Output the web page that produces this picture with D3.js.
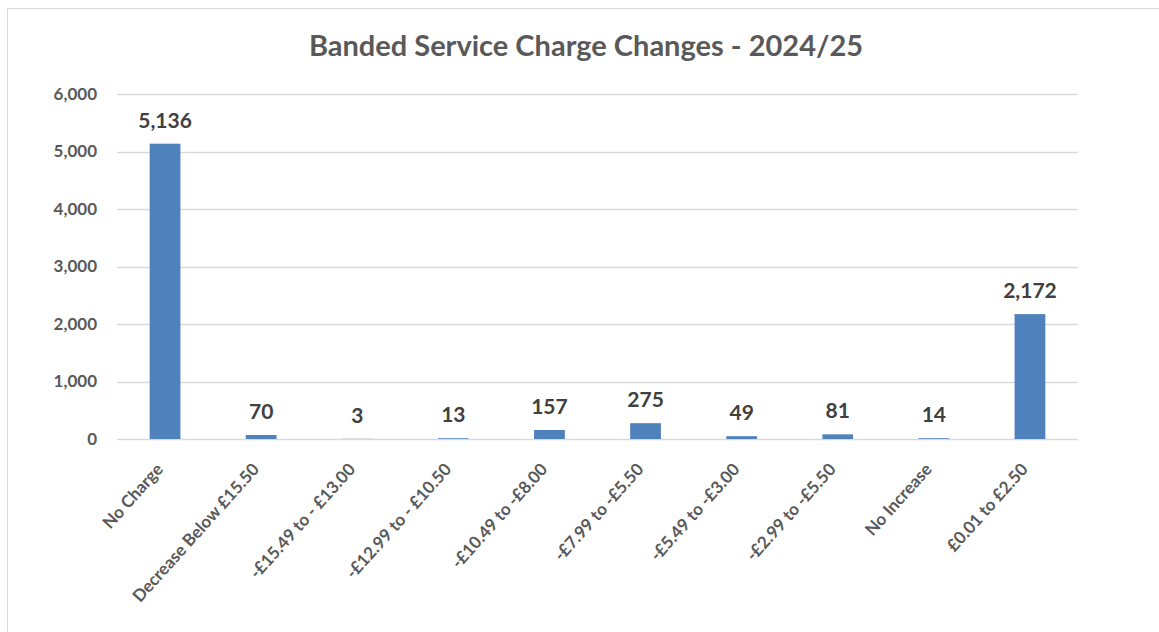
<!DOCTYPE html>
<html>
<head>
<meta charset="utf-8">
<script src="https://cdn.jsdelivr.net/npm/d3@7"></script>
<style>
  body { margin: 0; background: #fff; }
  text { font-family: Lato, "Open Sans", sans-serif; font-weight: bold; }
</style>
</head>
<body>
<div id="chart"></div>
<script>
var categories = ["No Charge", "Decrease Below £15.50", "-£15.49 to - £13.00",
    "-£12.99 to - £10.50", "-£10.49 to -£8.00", "-£7.99 to -£5.50",
    "-£5.49 to -£3.00", "-£2.99 to -£5.50", "No Increase", "£0.01 to £2.50"];
var counts = [5136, 70, 3, 13, 157, 275, 49, 81, 14, 2172];
var yTicks = [0, 1000, 2000, 3000, 4000, 5000, 6000];
var title = "Banded Service Charge Changes - 2024/25";

var width = 1159,
    height = 632;
var plotLeft = 117, plotRight = 1078, plotTop = 94, plotBottom = 439;

var svg = d3.select("#chart").append("svg")
    .attr("width", width)
    .attr("height", height);

// chart frame
svg.append("rect")
    .attr("x", 7.5)
    .attr("y", 8.5)
    .attr("width", width)
    .attr("height", height)
    .attr("fill", "#fff")
    .attr("stroke", "#d9d9d9");

svg.append("text")
    .attr("x", 586)
    .attr("y", 56)
    .attr("text-anchor", "middle")
    .attr("fill", "#595959")
    .style("font-size", "29px")
    .text(title);

var x = d3.scaleBand()
    .domain(categories)
    .range([plotLeft, plotRight])
    .paddingInner(0.68)
    .paddingOuter(0.34);

var y = d3.scaleLinear()
    .domain([0, 6000])
    .range([plotBottom, plotTop]);

// gridlines
svg.selectAll(".grid").data(yTicks)
    .enter().append("line")
    .attr("class", "grid")
    .attr("x1", plotLeft)
    .attr("x2", plotRight)
    .attr("y1", function(d) { return Math.round(y(d)) + 0.5; })
    .attr("y2", function(d) { return Math.round(y(d)) + 0.5; })
    .attr("stroke", "#d9d9d9")
    .attr("stroke-width", 1.3);

var yAxis = svg.append("g")
    .attr("transform", "translate(" + plotLeft + ",0)")
    .call(d3.axisLeft(y).tickValues(yTicks).tickSize(0).tickPadding(20)
        .tickFormat(d3.format(",")));
yAxis.select(".domain").remove();
yAxis.selectAll("text")
    .attr("fill", "#595959")
    .style("font-size", "17px")
    .style("font-family", "Lato, sans-serif");

svg.selectAll(".bar").data(counts)
    .enter().append("rect")
    .attr("class", "bar")
    .attr("x", function(d, i) { return x(categories[i]); })
    .attr("width", x.bandwidth())
    .attr("y", function(d) { return y(d); })
    .attr("height", function(d) { return plotBottom - y(d); })
    .attr("fill", "#4f81bd");

svg.selectAll(".val").data(counts)
    .enter().append("text")
    .attr("class", "val")
    .attr("x", function(d, i) { return x(categories[i]) + x.bandwidth() / 2; })
    .attr("y", function(d) { return y(d) - 16; })
    .attr("text-anchor", "middle")
    .attr("fill", "#404040")
    .style("font-size", "21px")
    .text(function(d) { return d3.format(",")(d); });

var xAxis = svg.append("g")
    .attr("transform", "translate(0," + plotBottom + ")")
    .call(d3.axisBottom(x).tickSize(0).tickPadding(0));
xAxis.select(".domain").remove();
xAxis.selectAll("text")
    .attr("fill", "#595959")
    .style("font-size", "17px")
    .style("font-family", "Lato, sans-serif")
    .attr("text-anchor", "end")
    .attr("dy", 0)
    .attr("transform", "translate(-1,31) rotate(-48)");
</script>
</body>
</html>
